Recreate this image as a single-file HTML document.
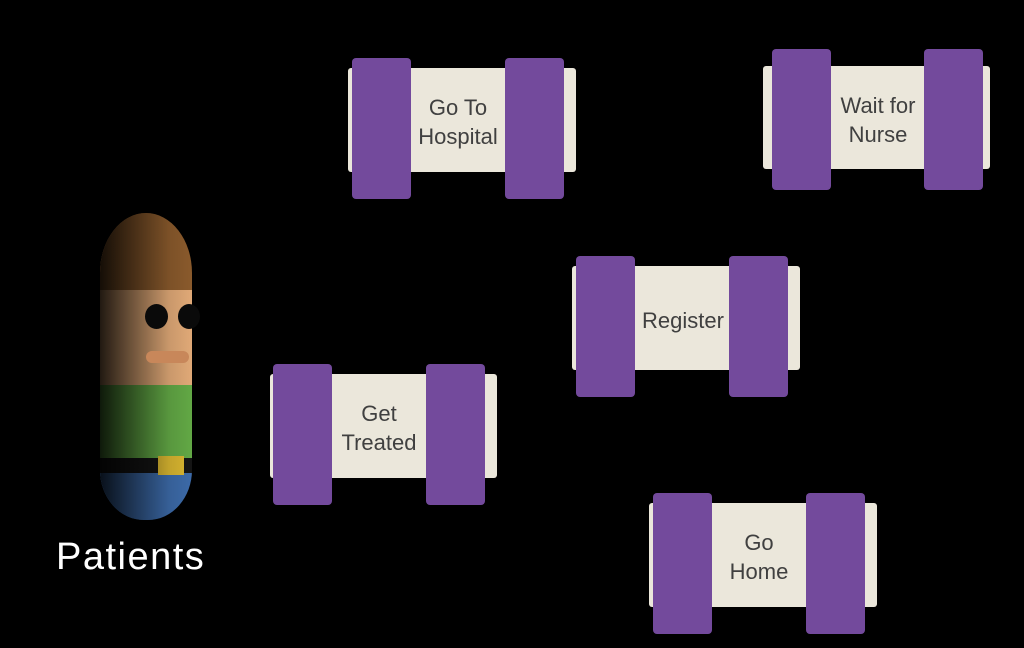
<!DOCTYPE html>
<html><head><style>
body{margin:0;width:1024px;height:648px;background:#000;overflow:hidden;position:relative;font-family:"Liberation Sans",sans-serif}
.c{position:absolute;background:#ebe7db;border-radius:3px;box-shadow:2px 2px 3px rgba(0,0,0,.5)}
.p{position:absolute;background:#734a9c;border-radius:4px;width:59px;height:141px}
.t{position:absolute;color:#404040;font-size:22px;text-align:center;line-height:29px;width:94px;display:flex;align-items:center;justify-content:center;padding-top:4px;box-sizing:border-box}
</style></head><body>
<div style="position:absolute;left:100px;top:213px;width:92px;height:307px;border-radius:46px 46px 44px 44px / 60px 60px 50px 50px;overflow:hidden">
 <div style="height:77px;background:#8a5a2c"></div>
 <div style="height:95px;background:#e0a977"></div>
 <div style="height:73px;background:#62a845"></div>
 <div style="height:15px;background:#141414"></div>
 <div style="height:47px;background:#3c6aa8"></div>
 <div style="position:absolute;left:58px;top:243px;width:26px;height:19px;background:#d8b530"></div>
 <div style="position:absolute;inset:0;background:linear-gradient(90deg,rgba(0,0,0,.85) 0%,rgba(0,0,0,.5) 35%,rgba(0,0,0,.1) 75%,rgba(0,0,0,0) 100%)"></div>
</div>
<div style="position:absolute;left:145px;top:304px;width:23px;height:25px;border-radius:50%;background:#0a0a0a"></div>
<div style="position:absolute;left:178px;top:304px;width:22px;height:25px;border-radius:50%;background:#0a0a0a"></div>
<div style="position:absolute;left:146px;top:351px;width:43px;height:12px;border-radius:6px;background:#c8875a"></div>
<div style="position:absolute;left:56px;top:536px;color:#fff;font-size:38px;letter-spacing:1.5px">Patients</div>

<div class="c" style="left:348px;top:68px;width:228px;height:104px"></div>
<div class="p" style="left:352px;top:58px"></div><div class="p" style="left:505px;top:58px"></div>
<div class="t" style="left:411px;top:68px;height:104px">Go To<br>Hospital</div>

<div class="c" style="left:763px;top:66px;width:227px;height:103px"></div>
<div class="p" style="left:772px;top:49px"></div><div class="p" style="left:924px;top:49px"></div>
<div class="t" style="left:831px;top:66px;height:103px">Wait for<br>Nurse</div>

<div class="c" style="left:572px;top:266px;width:228px;height:104px"></div>
<div class="p" style="left:576px;top:256px"></div><div class="p" style="left:729px;top:256px"></div>
<div class="t" style="left:636px;top:266px;height:104px">Register</div>

<div class="c" style="left:270px;top:374px;width:227px;height:104px"></div>
<div class="p" style="left:273px;top:364px"></div><div class="p" style="left:426px;top:364px"></div>
<div class="t" style="left:332px;top:374px;height:104px">Get<br>Treated</div>

<div class="c" style="left:649px;top:503px;width:228px;height:104px"></div>
<div class="p" style="left:653px;top:493px"></div><div class="p" style="left:806px;top:493px"></div>
<div class="t" style="left:712px;top:503px;height:104px">Go<br>Home</div>
</body></html>
